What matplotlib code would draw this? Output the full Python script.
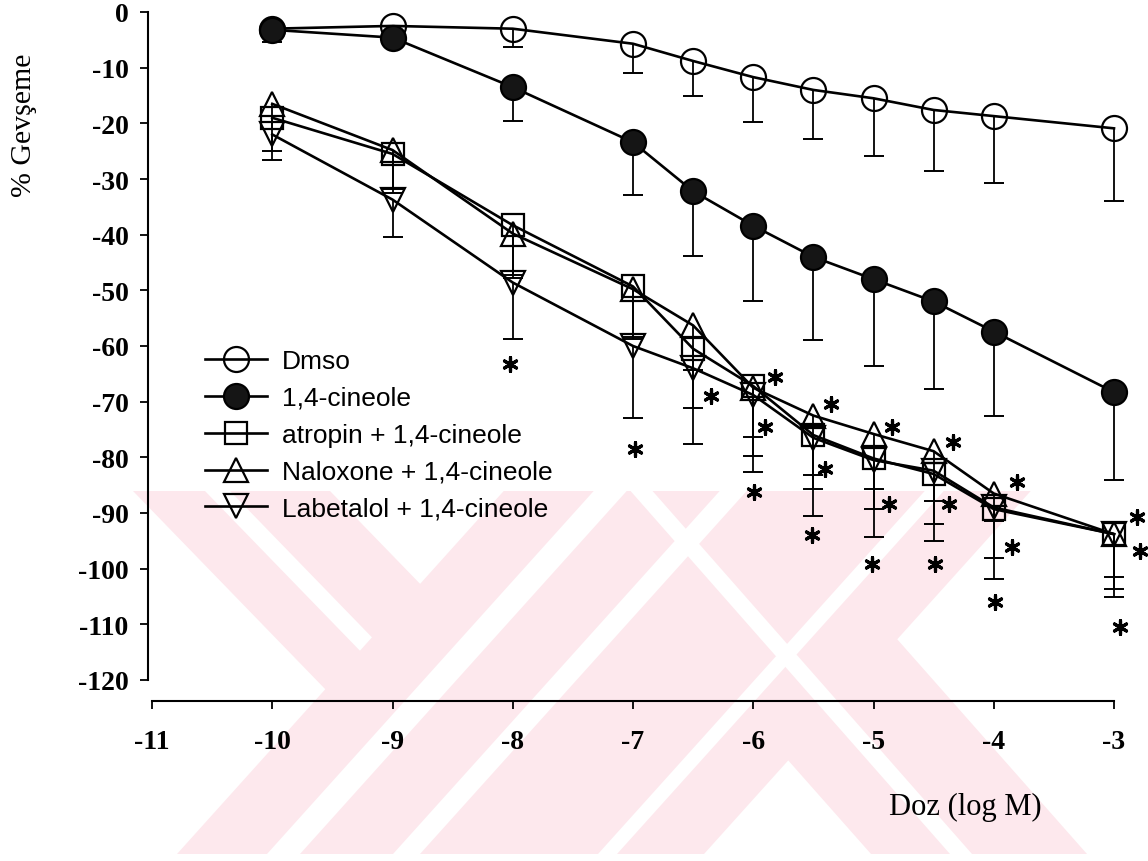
import numpy as np
import matplotlib
matplotlib.use("Agg")
import matplotlib.pyplot as plt
from matplotlib.patches import Polygon, Rectangle

# ---------------- data ----------------
doses = [-10, -9, -8, -7, -6.5, -6, -5.5, -5, -4.5, -4, -3]

dmso_mean = [-3.0, -2.5, -3.0, -5.7, -8.8, -11.7, -14.0, -15.5, -17.6, -18.7, -20.9]
dmso_err = [1.5, 1.5, 3.3, 5.3, 6.2, 8.1, 8.8, 10.3, 11.0, 12.0, 13.1]

cin_mean = [-3.2, -4.6, -13.5, -23.4, -32.2, -38.4, -44.0, -48.0, -52.0, -57.4, -68.3]
cin_err = [2.2, 0.9, 6.1, 9.4, 11.6, 13.6, 15.0, 15.6, 15.7, 15.2, 15.7]

atr_mean = [-19.0, -25.5, -38.3, -49.3, -60.5, -67.2, -76.0, -80.2, -83.0, -89.3, -93.8]
atr_err = [6.0, 7.0, 9.0, 9.0, 10.6, 9.2, 9.7, 9.1, 9.0, 8.7, 7.7]

nal_mean = [-16.5, -24.8, -39.8, -49.8, -56.3, -67.5, -72.5, -75.8, -78.9, -86.5, -93.8]
nal_err = [4.5, 7.0, 8.0, 9.0, 8.0, 12.2, 10.7, 9.9, 9.0, 5.0, 9.8]

lab_mean = [-22.0, -33.7, -48.6, -60.0, -64.0, -68.8, -76.5, -80.5, -82.4, -89.0, -93.8]
lab_err = [4.6, 6.7, 10.1, 13.0, 13.6, 13.8, 14.0, 13.8, 12.6, 12.9, 11.2]

labels = ["Dmso", "1,4-cineole", "atropin + 1,4-cineole",
          "Naloxone + 1,4-cineole", "Labetalol + 1,4-cineole"]

# significance asterisks (x, y in data units)
star_x = [-8.02, -6.98, -6.35,
          -5.82, -5.90, -5.99,
          -5.35, -5.40, -5.51,
          -4.85, -4.87, -5.01,
          -4.34, -4.37, -4.49,
          -3.81, -3.85, -3.99,
          -2.81, -2.78, -2.95]
star_y = [-63.2, -78.5, -69.0,
          -65.6, -74.5, -86.2,
          -70.4, -82.1, -93.9,
          -74.5, -88.4, -99.2,
          -77.2, -88.4, -99.2,
          -84.4, -96.1, -106.0,
          -90.7, -96.8, -110.5]

yticks = list(range(0, -121, -10))
xticks = list(range(-11, -2))

# ---------------- figure ----------------
W, H = 1148, 862
fig = plt.figure(figsize=(W / 100, H / 100), dpi=100)
fig.patch.set_facecolor("white")

# faint background watermark (pixel coordinates)
bg = fig.add_axes([0, 0, 1, 1], zorder=0)
bg.set_xlim(0, W)
bg.set_ylim(H, 0)
bg.axis("off")
Y0, Y1 = 492, 855
clip = Rectangle((100, Y0), 1040, Y1 - Y0, transform=bg.transData,
                 facecolor="none", edgecolor="none")
bg.add_patch(clip)
pink = "#fde8ed"


def poly(pts, color, z):
    p = Polygon(pts, closed=True, facecolor=color, edgecolor="none", zorder=z)
    bg.add_patch(p)
    p.set_clip_path(clip)


def slanted(xl, xr, yref, s, color, z):
    # band whose edges pass through (xl, yref), (xr, yref) with dx/dy = s
    ya, yb = Y0 - 20, Y1 + 20
    poly([(xl + s * (ya - yref), ya), (xr + s * (ya - yref), ya),
          (xr + s * (yb - yref), yb), (xl + s * (yb - yref), yb)], color, z)


# left "\" band with its inner white stripe
slanted(133, 330, Y0, 0.97, pink, 1)
slanted(205, 230, Y0, 0.97, "white", 2)
# "/" family (bottom edge 177..704)
slanted(177, 704, Y1, -0.9, pink, 3)
# right "\" band below its junction
poly([(787, 760), (871, Y1), (1087, Y1), (897, 640)], pink, 3)
# white stripes
for xl, xr in [(267, 300), (393, 420), (598, 617)]:
    slanted(xl, xr, Y1, -0.9, "white", 4)
slanted(950, 972, Y1, 0.88, "white", 4)

# main axes
left, right = 152 / W, 1114 / W
top, bottom = 1 - 13 / H, 1 - 681 / H
ax = fig.add_axes([left, bottom, right - left, top - bottom], zorder=1)
ax.patch.set_alpha(0)
ax.set_xlim(-11, -3)
ax.set_ylim(-120, 0)

lw_line = 1.9
lw_edge = 1.6
series = [
    (dmso_mean, dmso_err, "o", "none", 18),
    (cin_mean, cin_err, "o", "#151515", 18),
    (atr_mean, atr_err, "s", "none", 15.5),
    (nal_mean, nal_err, "^", "none", 17),
    (lab_mean, lab_err, "v", "none", 17),
]

for (m, e, mk, fc, msz) in series:
    zeros = np.zeros(len(e))
    cont = ax.errorbar(doses, m, yerr=[e, zeros], fmt="none", ecolor="black",
                       elinewidth=1.3, capsize=7, capthick=1.4, zorder=2)
    caps = cont.lines[1]
    if len(caps) > 1:
        caps[1].set_visible(False)
    for c in caps:
        c.set_clip_on(False)
    for b in cont.lines[2]:
        b.set_clip_on(False)

handles = []
for (m, e, mk, fc, msz), lab in zip(series, labels):
    ln, = ax.plot(doses, m, color="black", lw=lw_line, marker=mk, markersize=msz,
                  markerfacecolor=fc, markeredgecolor="black",
                  markeredgewidth=lw_edge, clip_on=False, zorder=3, label=lab)
    handles.append(ln)

ax.scatter(star_x, star_y, marker=(6, 2, 0), s=100, color="black",
           linewidths=2.3, clip_on=False, zorder=4)

# spines / ticks
for side in ["top", "right"]:
    ax.spines[side].set_visible(False)
ax.spines["left"].set_position(("outward", 3))
ax.spines["bottom"].set_position(("outward", 15))
ax.spines["left"].set_bounds(-120, 0)
ax.spines["bottom"].set_bounds(-11, -3)
for side in ["left", "bottom"]:
    ax.spines[side].set_linewidth(1.5)

ax.set_yticks(yticks)
ax.set_xticks(xticks)
ax.set_yticklabels([str(v) for v in yticks])
ax.set_xticklabels([str(v) for v in xticks])
ax.tick_params(axis="both", direction="out", length=6, width=1.3,
               labelsize=20, colors="black")
ax.tick_params(axis="y", pad=8)
ax.tick_params(axis="x", pad=14)
for t in ax.get_xticklabels() + ax.get_yticklabels():
    t.set_fontfamily("Liberation Serif")
    t.set_fontweight("bold")

# axis titles
fig.text(24 / W, 1 - 125 / H, "% Gevşeme", rotation=90, ha="center", va="center",
         fontsize=21.5, family="Liberation Serif")
fig.text(965 / W, 1 - 807 / H, "Doz (log M)", ha="center", va="center",
         fontsize=22, family="Liberation Serif")

# legend
leg = ax.legend(handles=handles, loc="upper left",
                bbox_to_anchor=(205 / W, 1 - 350 / H), bbox_transform=fig.transFigure,
                frameon=False, borderpad=0, borderaxespad=0,
                handlelength=2.35, handletextpad=0.55, labelspacing=0.49,
                prop={"family": "Liberation Sans", "size": 19})

fig.savefig("out.png", dpi=100)
